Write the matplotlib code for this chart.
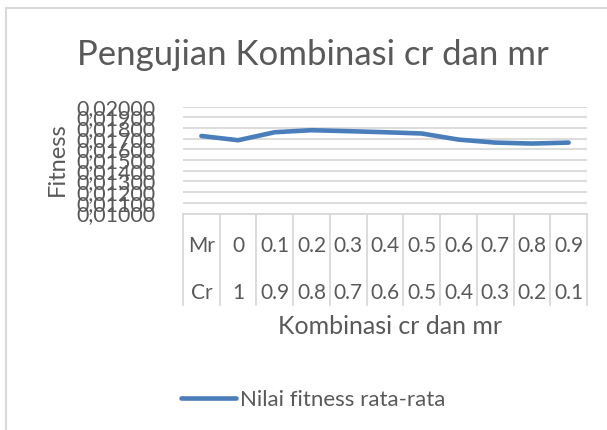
import numpy as np
import matplotlib
matplotlib.use('Agg')
import matplotlib.pyplot as plt
import matplotlib.transforms as mtrans

# data
mr_labels = ['Mr', '0', '0.1', '0.2', '0.3', '0.4', '0.5', '0.6', '0.7', '0.8', '0.9']
cr_labels = ['Cr', '1', '0.9', '0.8', '0.7', '0.6', '0.5', '0.4', '0.3', '0.2', '0.1']
fitness = [0.01726, 0.01686, 0.01761, 0.01780, 0.01771, 0.01761,
           0.01749, 0.01692, 0.01664, 0.01655, 0.01664]
yticks = np.arange(0.010, 0.0205, 0.001)

txtcol = '#595959'
gridcol = '#d9d9d9'
linecol = '#4a7ebb'
plt.rcParams['font.family'] = ['Lato', 'DejaVu Sans']

fig = plt.figure(figsize=(6.07, 4.30), dpi=100)
ax = fig.add_axes([183/607, 1-213.5/430, (587-183)/607, (213.5-106.7)/430])

x = np.arange(len(fitness))
ax.plot(x, fitness, color=linecol, lw=3.3, solid_capstyle='round',
        label='Nilai fitness rata-rata')

ax.set_xlim(-0.5, len(fitness)-0.5)
ax.set_ylim(0.010, 0.020)
ax.set_yticks(yticks)
ax.set_yticklabels(['{:.5f}'.format(v).replace('.', ',') for v in yticks],
                   fontsize=15.5, color=txtcol)
ax.tick_params(axis='y', length=0, pad=20)
ax.set_xticks([])
for v in yticks:
    ax.axhline(v, color=gridcol, lw=1.3, zorder=0)
for s in ax.spines.values():
    s.set_visible(False)

# category table under the axis
tr = mtrans.blended_transform_factory(ax.transData, ax.transAxes)
for i in range(len(fitness)+1):
    ax.plot([i-0.5, i-0.5], [0, -0.855], color=gridcol, lw=1.3,
            transform=tr, clip_on=False)
ax.plot([-0.5, len(fitness)-0.5], [0, 0], color=gridcol, lw=1.3,
        transform=tr, clip_on=False)
for i in range(len(fitness)):
    ax.text(i, -0.30, mr_labels[i], transform=tr, ha='center', va='center',
            fontsize=15, color=txtcol)
    ax.text(i, -0.74, cr_labels[i], transform=tr, ha='center', va='center',
            fontsize=15, color=txtcol)

fig.text(313/607, 1-55/430, 'Pengujian Kombinasi cr dan mr', ha='center',
         va='center', fontsize=25, color=txtcol)
fig.text(57/607, 1-159/430, 'Fitness', ha='center', va='center',
         rotation=90, fontsize=17, color=txtcol)
fig.text(390/607, 1-326/430, 'Kombinasi cr dan mr', ha='center',
         va='center', fontsize=18, color=txtcol)

leg = fig.legend(loc='center', bbox_to_anchor=(313/607, 1-400/430),
                 frameon=False, fontsize=16, handlelength=2.5,
                 handletextpad=0.15, labelcolor=txtcol)

# chart border (top and left visible)
fig.add_artist(plt.Line2D([6/607, 6/607], [0, 1-8/430], color='#d9d9d9',
                          lw=1.5, transform=fig.transFigure))
fig.add_artist(plt.Line2D([6/607, 1], [1-8/430, 1-8/430], color='#d9d9d9',
                          lw=1.5, transform=fig.transFigure))

fig.savefig('out.png', dpi=100, facecolor='white')
